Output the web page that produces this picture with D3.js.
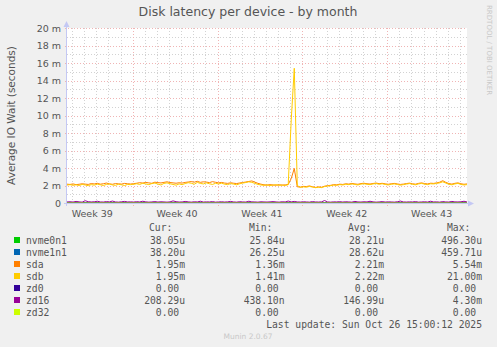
<!DOCTYPE html>
<html>
<head>
<meta charset="utf-8">
<script src="https://cdn.jsdelivr.net/npm/d3@7"></script>
<style>
  body { margin: 0; background: #f0f0f0; }
  svg { display: block; }
  text { font-family: "DejaVu Sans", sans-serif; fill: #555; }
  .mono { font-family: "DejaVu Sans Mono", monospace; font-size: 9.7px; white-space: pre; }
</style>
</head>
<body>
<div id="chart"></div>
<script>
// series, in milliseconds, one point every 6 hours
var sda = [2.15,2.12,2.18,2.10,2.14,2.20,2.16,2.12,2.22,2.18,2.25,2.15,2.20,2.28,2.18,2.14,2.22,2.19,2.16,2.24,2.20,2.17,
  2.21,2.26,2.32,2.28,2.35,2.30,2.25,2.38,2.33,2.29,2.36,2.42,2.34,2.30,2.26,2.31,2.28,2.35,2.40,2.45,2.38,2.48,2.36,2.42,2.39,2.33,2.44,2.37,
  2.30,2.35,2.28,2.24,2.31,2.26,2.22,2.29,2.34,2.40,2.46,2.52,2.38,2.25,2.15,
  2.08,2.05,2.10,2.06,2.04,2.08,2.05,2.07,2.12,
  2.80,3.95,1.85,
  1.82,1.90,1.88,1.95,1.86,1.78,1.84,1.80,1.92,1.98,2.02,
  2.10,2.08,2.15,2.12,2.20,2.16,2.24,2.18,2.14,2.22,2.26,2.20,2.17,2.23,2.28,2.21,2.25,2.19,2.14,2.20,2.24,2.18,2.12,2.16,2.22,2.27,2.20,2.15,2.24,2.30,
  2.22,2.18,2.26,2.24,2.30,2.38,2.55,2.36,2.22,2.16,2.25,2.30,2.20,2.14,2.18];

var sdb = [2.05,2.10,2.02,2.08,2.00,2.12,2.06,1.98,2.10,2.04,2.15,2.08,2.00,2.12,2.18,2.06,2.02,2.14,2.08,2.00,2.12,2.10,
  2.14,2.20,2.12,2.26,2.18,2.10,2.22,2.28,2.16,2.06,2.24,2.30,2.20,2.12,2.04,2.18,2.10,2.22,2.32,2.26,2.15,2.35,2.24,2.18,2.30,2.20,2.12,2.25,
  2.18,2.26,2.15,2.10,2.22,2.16,2.08,2.20,2.28,2.34,2.42,2.36,2.24,2.12,2.06,
  2.02,2.06,2.00,2.04,2.08,2.02,2.05,2.00,2.10,
  9.50,15.40,2.00,
  1.78,1.85,1.80,1.90,1.82,1.75,1.80,1.76,1.88,1.94,1.98,
  2.04,2.02,2.10,2.06,2.14,2.10,2.18,2.12,2.06,2.16,2.20,2.14,2.10,2.18,2.22,2.14,2.20,2.12,2.06,2.14,2.18,2.12,2.04,2.10,2.16,2.22,2.14,2.08,2.18,2.24,
  2.16,2.10,2.20,2.18,2.24,2.30,2.42,2.28,2.14,2.08,2.18,2.24,2.12,2.06,2.10];

var zd16 = [0.12,0.14,0.11,0.18,0.13,0.10,0.26,0.15,0.12,0.14,0.20,0.12,0.11,0.16,0.13,0.22,0.12,0.10,0.14,0.18,0.12,0.13,
  0.11,0.15,0.12,0.20,0.13,0.10,0.12,0.16,0.11,0.14,0.12,0.10,0.13,0.24,0.15,0.11,0.12,0.18,0.13,0.10,0.14,0.12,0.20,0.11,0.13,0.12,0.16,0.10,
  0.12,0.14,0.11,0.13,0.18,0.12,0.10,0.15,0.12,0.11,0.20,0.13,0.12,0.10,0.14,
  0.12,0.11,0.13,0.16,0.12,0.10,0.14,0.12,0.22,
  0.13,0.18,0.12,
  0.11,0.14,0.12,0.10,0.16,0.12,0.11,0.13,0.28,0.12,0.10,
  0.13,0.12,0.15,0.11,0.14,0.12,0.10,0.18,0.12,0.11,0.14,0.12,0.20,0.13,0.10,0.12,0.16,0.11,0.13,0.12,0.10,0.14,0.22,0.12,0.11,0.13,0.12,0.16,0.10,0.12,
  0.14,0.11,0.20,0.12,0.13,0.10,0.16,0.12,0.11,0.18,0.13,0.12,0.14,0.20,0.12];

// daily points
var nvme0n1 = [0.028,0.027,0.029,0.028,0.030,0.027,0.028,0.029,0.028,0.027,0.031,0.028,0.028,0.029,0.027,0.028,0.030,
  0.028,0.027,0.028,0.029,0.028,0.027,0.028,0.030,0.028,0.029,0.027,0.028,0.028,0.029,0.028,0.027,0.038];
var nvme1n1 = [0.029,0.028,0.030,0.028,0.031,0.028,0.029,0.029,0.028,0.028,0.032,0.029,0.028,0.030,0.028,0.029,0.030,
  0.029,0.028,0.029,0.030,0.028,0.028,0.029,0.031,0.029,0.029,0.028,0.029,0.028,0.030,0.029,0.028,0.038];
var zd0 = [0,0,0,0,0,0,0,0,0,0,0,0,0,0,0,0,0,0,0,0,0,0,0,0,0,0,0,0,0,0,0,0,0,0];
var zd32 = [0,0,0,0,0,0,0,0,0,0,0,0,0,0,0,0,0,0,0,0,0,0,0,0,0,0,0,0,0,0,0,0,0,0];

var names = ["nvme0n1", "nvme1n1", "sda", "sdb", "zd0", "zd16", "zd32"];
var colors = ["#00cc00", "#0066b3", "#ff8000", "#ffcc00", "#330099", "#990099", "#ccff00"];
var seriesData = [nvme0n1, nvme1n1, sda, sdb, zd0, zd16, zd32];
var curText = ["38.05u", "38.20u", "1.95m", "1.95m", "0.00 ", "208.29u", "0.00 "];
var minText = ["25.84u", "26.25u", "1.36m", "1.41m", "0.00 ", "438.10n", "0.00 "];
var avgText = ["28.21u", "28.62u", "2.21m", "2.22m", "0.00 ", "146.99u", "0.00 "];
var maxText = ["496.30u", "459.71u", "5.54m", "21.00m", "0.00 ", "4.30m", "0.00 "];
var yTicks = [0, 2, 4, 6, 8, 10, 12, 14, 16, 18, 20];

var startTime = new Date(Date.UTC(2025, 8, 23, 14, 0));
var endTime = new Date(Date.UTC(2025, 9, 26, 14, 0));

var W = 497, H = 347;
var plot = {left: 67, right: 467, top: 28, bottom: 203};
var axisColor = "#c4c8f4";

var svg = d3.select("#chart").append("svg")
    .attr("width", W)
    .attr("height", H);

svg.append("rect").attr("width", W).attr("height", H).attr("fill", "#f0f0f0");
svg.append("rect")
    .attr("x", plot.left).attr("y", plot.top)
    .attr("width", plot.right - plot.left).attr("height", plot.bottom - plot.top)
    .attr("fill", "#fff");

var x = d3.scaleUtc().domain([startTime, endTime]).range([plot.left, plot.right]);
var y = d3.scaleLinear().domain([0, 20]).range([plot.bottom, plot.top]);

// grid
var grid = svg.append("g").attr("shape-rendering", "crispEdges");
var days = d3.utcDay.range(d3.utcDay.ceil(startTime), endTime);
grid.selectAll(".vminor").data(days).enter().append("line")
    .attr("x1", function(d) { return Math.round(x(d)) + 0.5; })
    .attr("x2", function(d) { return Math.round(x(d)) + 0.5; })
    .attr("y1", plot.top).attr("y2", plot.bottom)
    .attr("stroke", "#d2d2d2").attr("stroke-dasharray", "1,2");
grid.selectAll(".hminor").data(d3.range(1, 20, 2)).enter().append("line")
    .attr("x1", plot.left).attr("x2", plot.right)
    .attr("y1", function(d) { return Math.round(y(d)) + 0.5; })
    .attr("y2", function(d) { return Math.round(y(d)) + 0.5; })
    .attr("stroke", "#d2d2d2").attr("stroke-dasharray", "1,2");
var weeks = d3.utcMonday.range(startTime, endTime);
grid.selectAll(".vmajor").data(weeks).enter().append("line")
    .attr("x1", function(d) { return Math.round(x(d)) + 0.5; })
    .attr("x2", function(d) { return Math.round(x(d)) + 0.5; })
    .attr("y1", plot.top).attr("y2", plot.bottom + 3)
    .attr("stroke", "#f0b4b4").attr("stroke-dasharray", "1,2");
grid.selectAll(".hmajor").data(yTicks.slice(1)).enter().append("line")
    .attr("x1", plot.left - 2).attr("x2", plot.right)
    .attr("y1", function(d) { return Math.round(y(d)) + 0.5; })
    .attr("y2", function(d) { return Math.round(y(d)) + 0.5; })
    .attr("stroke", "#f0b4b4").attr("stroke-dasharray", "1,2");

// y labels
svg.selectAll(".ylab").data(yTicks).enter().append("text")
    .attr("x", plot.left - 6)
    .attr("y", function(d) { return y(d) + 3.5; })
    .attr("text-anchor", "end")
    .style("font-size", "9.5px")
    .text(function(d) { return d === 0 ? "0" : d + " m"; });

// week labels, centered on the middle of each week
var weekFmt = d3.utcFormat("%V");
var labelWeeks = d3.utcMonday.range(d3.utcMonday.floor(startTime), endTime);
svg.selectAll(".xlab").data(labelWeeks).enter().append("text")
    .attr("x", function(d) { return x(d3.utcHour.offset(d, 84)) + 2; })
    .attr("y", 216.5)
    .attr("text-anchor", "middle")
    .style("font-size", "9.5px")
    .text(function(d) { return "Week " + weekFmt(d); });

// lines
seriesData.forEach(function(vals, k) {
  var n = vals.length - 1;
  var xi = d3.scaleLinear().domain([0, n]).range([plot.left, plot.right]);
  var line = d3.line()
      .x(function(d, i) { return xi(i); })
      .y(function(d) { return y(d); });
  svg.append("path")
      .datum(vals)
      .attr("d", line)
      .attr("fill", "none")
      .attr("stroke", colors[k])
      .attr("stroke-width", 1);
});

// axes, drawn over the data
svg.append("line")
    .attr("x1", plot.left - 3).attr("x2", plot.right + 4)
    .attr("y1", plot.bottom + 0.5).attr("y2", plot.bottom + 0.5)
    .attr("stroke", axisColor);
svg.append("line")
    .attr("x1", plot.left - 0.5).attr("x2", plot.left - 0.5)
    .attr("y1", plot.bottom + 3).attr("y2", plot.top - 4)
    .attr("stroke", axisColor);
svg.append("path")
    .attr("d", "M" + (plot.left - 3.5) + "," + (plot.top - 1) + "L" + (plot.left - 0.5) + "," + (plot.top - 7) + "L" + (plot.left + 2.5) + "," + (plot.top - 1) + "Z")
    .attr("fill", axisColor);
svg.append("path")
    .attr("d", "M" + (plot.right + 1) + "," + (plot.bottom - 2.5) + "L" + (plot.right + 7) + "," + (plot.bottom + 0.5) + "L" + (plot.right + 1) + "," + (plot.bottom + 3.5) + "Z")
    .attr("fill", axisColor);

// titles
svg.append("text")
    .attr("x", 248).attr("y", 16)
    .attr("text-anchor", "middle")
    .style("font-size", "12.5px")
    .text("Disk latency per device - by month");
svg.append("text")
    .attr("transform", "translate(15," + ((plot.top + plot.bottom) / 2) + ") rotate(-90)")
    .attr("text-anchor", "middle")
    .style("font-size", "10.5px")
    .text("Average IO Wait (seconds)");
svg.append("text")
    .attr("transform", "translate(487,5) rotate(90)")
    .style("font-size", "7px")
    .style("fill", "#c8c8c8")
    .text("RRDTOOL / TOBI OETIKER");

// legend
var colEnds = [185, 284.5, 384, 482];
var heads = ["Cur:", "Min:", "Avg:", "Max:"];
var headStarts = [149, 249, 348, 447];
heads.forEach(function(h, i) {
  svg.append("text").attr("class", "mono")
      .attr("x", headStarts[i]).attr("y", 231)
      .text(h);
});
var cols = [curText, minText, avgText, maxText];
names.forEach(function(nm, k) {
  var by = 243.5 + k * 12;
  svg.append("rect")
      .attr("x", 14).attr("y", by - 6.5)
      .attr("width", 6).attr("height", 6)
      .attr("fill", colors[k]);
  svg.append("text").attr("class", "mono")
      .attr("x", 26).attr("y", by)
      .text(nm);
  cols.forEach(function(c, i) {
    svg.append("text").attr("class", "mono")
        .attr("x", colEnds[i]).attr("y", by)
        .attr("text-anchor", "end")
        .text(c[k]);
  });
});
svg.append("text").attr("class", "mono")
    .attr("x", 482).attr("y", 327.5)
    .attr("text-anchor", "end")
    .text("Last update: Sun Oct 26 15:00:12 2025");
svg.append("text")
    .attr("x", 248).attr("y", 339)
    .attr("text-anchor", "middle")
    .style("font-size", "7.5px")
    .style("fill", "#c8c8c8")
    .text("Munin 2.0.67");
</script>
</body>
</html>
